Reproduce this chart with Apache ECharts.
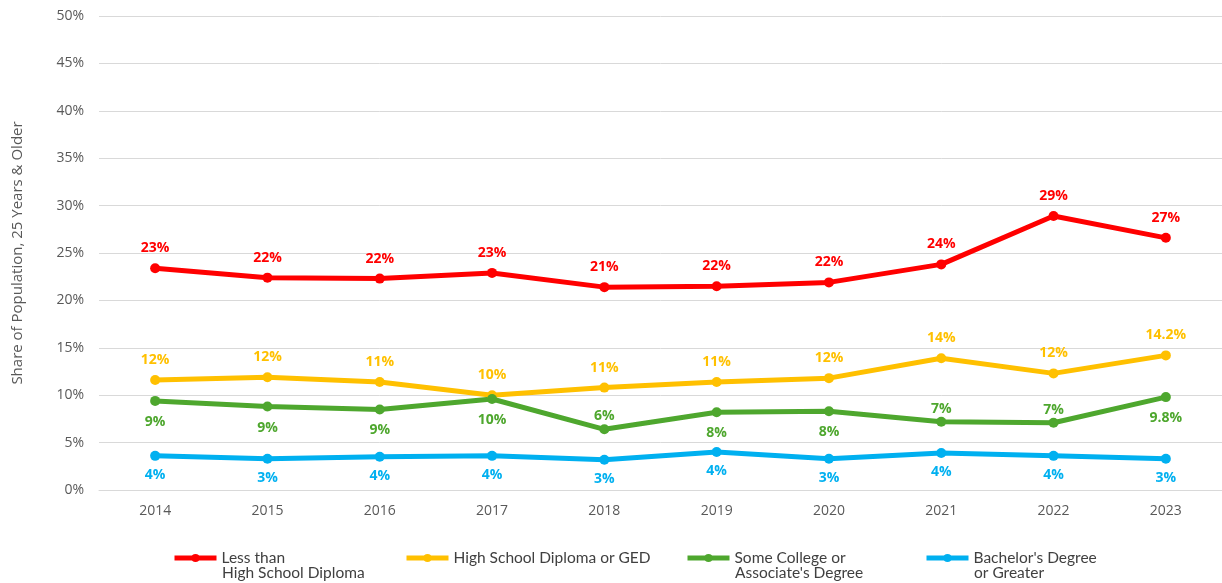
<!DOCTYPE html>
<html>
<head>
<meta charset="utf-8">
<script src="https://cdn.jsdelivr.net/npm/echarts@6/dist/echarts.min.js"></script>
<style>
  html, body { margin: 0; padding: 0; background: #fff; }
  #chart { width: 1222px; height: 583px; }
</style>
</head>
<body>
<div id="chart"></div>
<script>
  const years = ['2014', '2015', '2016', '2017', '2018', '2019', '2020', '2021', '2022', '2023'];

  // values (share, %)
  const lessThanHS = [23.4, 22.4, 22.3, 22.9, 21.4, 21.5, 21.9, 23.8, 28.9, 26.6];
  const hsDiploma = [11.6, 11.9, 11.4, 10.0, 10.8, 11.4, 11.8, 13.9, 12.3, 14.2];
  const someCollege = [9.4, 8.8, 8.5, 9.6, 6.4, 8.2, 8.3, 7.2, 7.1, 9.8];
  const bachelors = [3.6, 3.3, 3.5, 3.6, 3.2, 4.0, 3.3, 3.9, 3.6, 3.3];

  // the labels as printed on the chart
  const lessThanHSLabels = ['23%', '22%', '22%', '23%', '21%', '22%', '22%', '24%', '29%', '27%'];
  const hsDiplomaLabels = ['12%', '12%', '11%', '10%', '11%', '11%', '12%', '14%', '12%', '14.2%'];
  const someCollegeLabels = ['9%', '9%', '9%', '10%', '6%', '8%', '8%', '7%', '7%', '9.8%'];
  const bachelorsLabels = ['4%', '3%', '4%', '4%', '3%', '4%', '3%', '4%', '4%', '3%'];

  const yTicks = [0, 5, 10, 15, 20, 25, 30, 35, 40, 45, 50];

  // legend names, second line drawn under the first
  const seriesNames = ['Less than', 'High School Diploma or GED', 'Some College or', 'Bachelor\'s Degree'];
  const secondLines = ['High School Diploma', '', 'Associate\'s Degree', 'or Greater'];

  const font = '"Open Sans", sans-serif';
  const legendFont = 'Lato, "Open Sans", sans-serif';

  const myChart = echarts.init(document.getElementById('chart'));

  function makeSeries(name, color, values, labels, pos, dist) {
    return {
      name: name,
      type: 'line',
      data: values.map(function (v, i) {
        const p = typeof pos === 'function' ? pos(i) : pos;
        return {
          value: v,
          label: { position: p, distance: p === 'top' ? dist[0] : dist[1] }
        };
      }),
      symbol: 'circle',
      symbolSize: 10,
      lineStyle: { width: 5, color: color },
      itemStyle: { color: color },
      label: {
        show: true,
        color: color,
        fontFamily: font,
        fontWeight: 'bold',
        fontSize: 14,
        formatter: function (p) { return labels[p.dataIndex]; }
      },
      emphasis: { disabled: true },
      z: 3
    };
  }

  // green labels sit above the point for these years
  const greenAbove = ['2018', '2021', '2022'];

  const legendLeft = [172, 404, 685, 924];
  const legendTop = 550;

  const legendTextStyle = {
    fontFamily: legendFont,
    fontSize: 15.5,
    color: '#404040'
  };

  const option = {
    backgroundColor: '#fff',
    animation: false,
    grid: { left: 99, right: -3, top: 16, bottom: 93 },
    xAxis: {
      type: 'category',
      data: years,
      boundaryGap: true,
      axisTick: { show: false },
      axisLine: { lineStyle: { color: '#d9d9d9', width: 1 } },
      axisLabel: { color: '#595959', fontFamily: font, fontSize: 14, margin: 14 }
    },
    yAxis: {
      type: 'value',
      min: yTicks[0],
      max: yTicks[yTicks.length - 1],
      interval: 5,
      name: 'Share of Population, 25 Years & Older',
      nameLocation: 'middle',
      nameGap: 74,
      nameTextStyle: { color: '#595959', fontFamily: font, fontSize: 15 },
      axisLine: { show: false },
      axisTick: { show: false },
      splitLine: { lineStyle: { color: '#d9d9d9', width: 1 } },
      axisLabel: {
        color: '#595959', fontFamily: font, fontSize: 14, margin: 15,
        formatter: '{value}%'
      }
    },
    legend: seriesNames.map(function (n, i) {
      return {
        data: [n],
        left: legendLeft[i],
        top: legendTop,
        padding: 0,
        itemWidth: 42,
        itemHeight: 10,
        itemGap: 0,
        selectedMode: false,
        lineStyle: { width: 5 },
        textStyle: legendTextStyle
      };
    }),
    graphic: secondLines.map(function (t, i) {
      return {
        type: 'text',
        left: legendLeft[i] + 50,
        top: legendTop + 15,
        silent: true,
        style: { text: t, fill: '#404040', font: '15.5px ' + legendFont }
      };
    }),
    series: [
      makeSeries(seriesNames[0], '#ff0000', lessThanHS, lessThanHSLabels, 'top', [8, 6]),
      makeSeries(seriesNames[1], '#ffc000', hsDiploma, hsDiplomaLabels, 'top', [8, 6]),
      makeSeries(seriesNames[2], '#4ea72e', someCollege, someCollegeLabels,
        function (i) { return greenAbove.indexOf(years[i]) >= 0 ? 'top' : 'bottom'; }, [1, 9]),
      makeSeries(seriesNames[3], '#00b0f0', bachelors, bachelorsLabels, 'bottom', [8, 7])
    ]
  };

  myChart.setOption(option);
</script>
</body>
</html>
